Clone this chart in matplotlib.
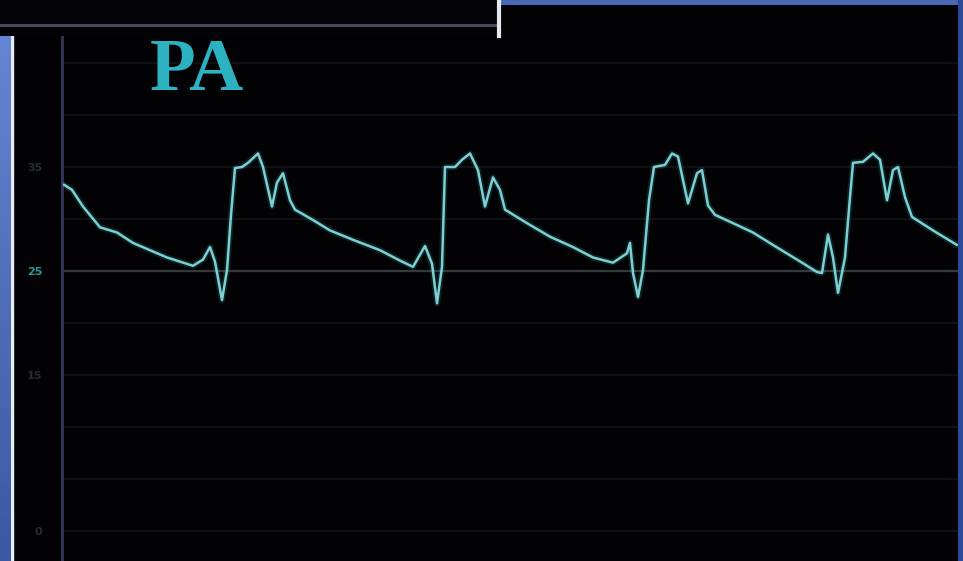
import matplotlib
matplotlib.use("Agg")
import matplotlib.pyplot as plt
import numpy as np
from matplotlib.patches import Rectangle
from matplotlib.lines import Line2D

# PA pressure trace (time in ms, pressure in mmHg)
time_ms = [8, 40, 84, 152, 220, 284, 352, 420, 472, 524, 564, 592, 612, 640, 660,
           676, 692, 720, 744, 784, 804, 840, 860, 884, 912, 932, 1004, 1072, 1164,
           1272, 1352, 1404, 1452, 1480, 1500, 1520, 1532, 1572, 1600, 1632, 1664,
           1692, 1724, 1752, 1772, 1860, 1952, 2044, 2124, 2204, 2260, 2272, 2284,
           2304, 2324, 2348, 2368, 2412, 2440, 2464, 2504, 2540, 2560, 2584, 2612,
           2684, 2764, 2844, 2940, 3020, 3040, 3064, 3084, 3104, 3132, 3152, 3164,
           3204, 3244, 3272, 3300, 3324, 3344, 3372, 3400, 3484, 3580]
pressure = [33.3, 32.8, 31.2, 29.2, 28.7, 27.7, 27.0, 26.3, 25.9, 25.5, 26.1, 27.3,
            25.9, 22.2, 25.1, 30.4, 34.9, 35.0, 35.4, 36.3, 35.0, 31.2, 33.5, 34.4,
            31.8, 30.9, 29.9, 28.9, 28.0, 27.0, 26.0, 25.4, 27.4, 25.7, 21.9, 25.4,
            35.0, 35.0, 35.7, 36.3, 34.7, 31.2, 34.0, 32.8, 30.9, 29.6, 28.3, 27.3,
            26.3, 25.8, 26.7, 27.7, 24.8, 22.5, 25.1, 31.8, 35.0, 35.2, 36.3, 36.0,
            31.5, 34.4, 34.7, 31.3, 30.4, 29.6, 28.7, 27.5, 26.1, 24.9, 24.8, 28.5,
            26.3, 22.9, 26.3, 32.1, 35.4, 35.5, 36.3, 35.7, 31.8, 34.7, 35.0, 32.1,
            30.2, 28.9, 27.5]

grid_levels = [0, 5, 10, 15, 20, 25, 30, 35, 40, 45]
scale_ticks = [0, 15, 25, 35]
scale_labels = ["0", "15", "25", "35"]
label_text = "PA"

W, H = 963, 561
fig = plt.figure(figsize=(W / 100, H / 100), dpi=100, facecolor="#030306")


def fx(px):
    return px / W


def fy(py):
    return 1 - py / H


# slide background (blue frame)
grad = np.linspace(0, 1, 256).reshape(-1, 1)
bl = fig.add_axes([0, 0, fx(10), fy(36)], zorder=1)
bl.imshow(grad, aspect="auto", cmap=matplotlib.colors.LinearSegmentedColormap.from_list(
    "b", ["#6585d2", "#3a58a2"]), extent=[0, 1, 0, 1], origin="upper")
bl.axis("off")
fig.add_artist(Rectangle((fx(10), 0), fx(3), fy(36), color="#e8ecf4", zorder=1,
                         transform=fig.transFigure))
fig.add_artist(Rectangle((fx(500), fy(4)), fx(463), 4 / H, color="#4a68b4",
                         zorder=1, transform=fig.transFigure))
fig.add_artist(Rectangle((fx(958), 0), fx(5), 1, color="#2c4896", zorder=1,
                         transform=fig.transFigure))

# monitor plot area
ax = fig.add_axes([fx(62), 0, fx(958) - fx(62), fy(5)], zorder=2)
ax.set_facecolor("#020204")
ax.set_xlim(0, (958 - 62) * 4)
ax.set_ylim((531 - 561) / 10.4, (531 - 5) / 10.4)

for lv in grid_levels:
    c = "#333a3e" if lv == 25 else "#141419"
    ax.axhline(lv, color=c, lw=1.6 if lv == 25 else 1.2, zorder=1)

ax.plot(time_ms, pressure, color="#3aa6ae", lw=4.5, alpha=0.18, zorder=3,
        solid_joinstyle="round", solid_capstyle="round")
ax.plot(time_ms, pressure, color="#7ccfd2", lw=1.8, zorder=4,
        solid_joinstyle="round", solid_capstyle="round")

ax.set_xticks([])
ax.set_yticks(scale_ticks)
ax.set_yticklabels(scale_labels, fontsize=8, fontweight="bold")
for t, lbl in zip(scale_ticks, ax.get_yticklabels()):
    lbl.set_color("#2a9696" if t == 25 else "#243030")
ax.tick_params(axis="y", length=0, pad=14)
for s in ["top", "right", "bottom"]:
    ax.spines[s].set_visible(False)
ax.spines["left"].set_color("#36365a")
ax.spines["left"].set_linewidth(2)

# top-left black panel over the screen
panel = fig.add_axes([0, fy(36), fx(500), 36 / H], zorder=5)
panel.set_facecolor("#040408")
panel.set_xticks([])
panel.set_yticks([])
for s in panel.spines.values():
    s.set_visible(False)
panel.axhline(0.3, color="#4e4e62", lw=2)
fig.add_artist(Line2D([fx(499), fx(499)], [fy(36), 1], color="#e6e8ee", lw=3,
                      zorder=6, transform=fig.transFigure))

fig.text(fx(150), fy(90), label_text, fontsize=54, fontweight="bold",
         family="Liberation Serif", color="#2db2c2", va="baseline", ha="left", zorder=3)

fig.savefig("out.png", dpi=100, facecolor=fig.get_facecolor())
